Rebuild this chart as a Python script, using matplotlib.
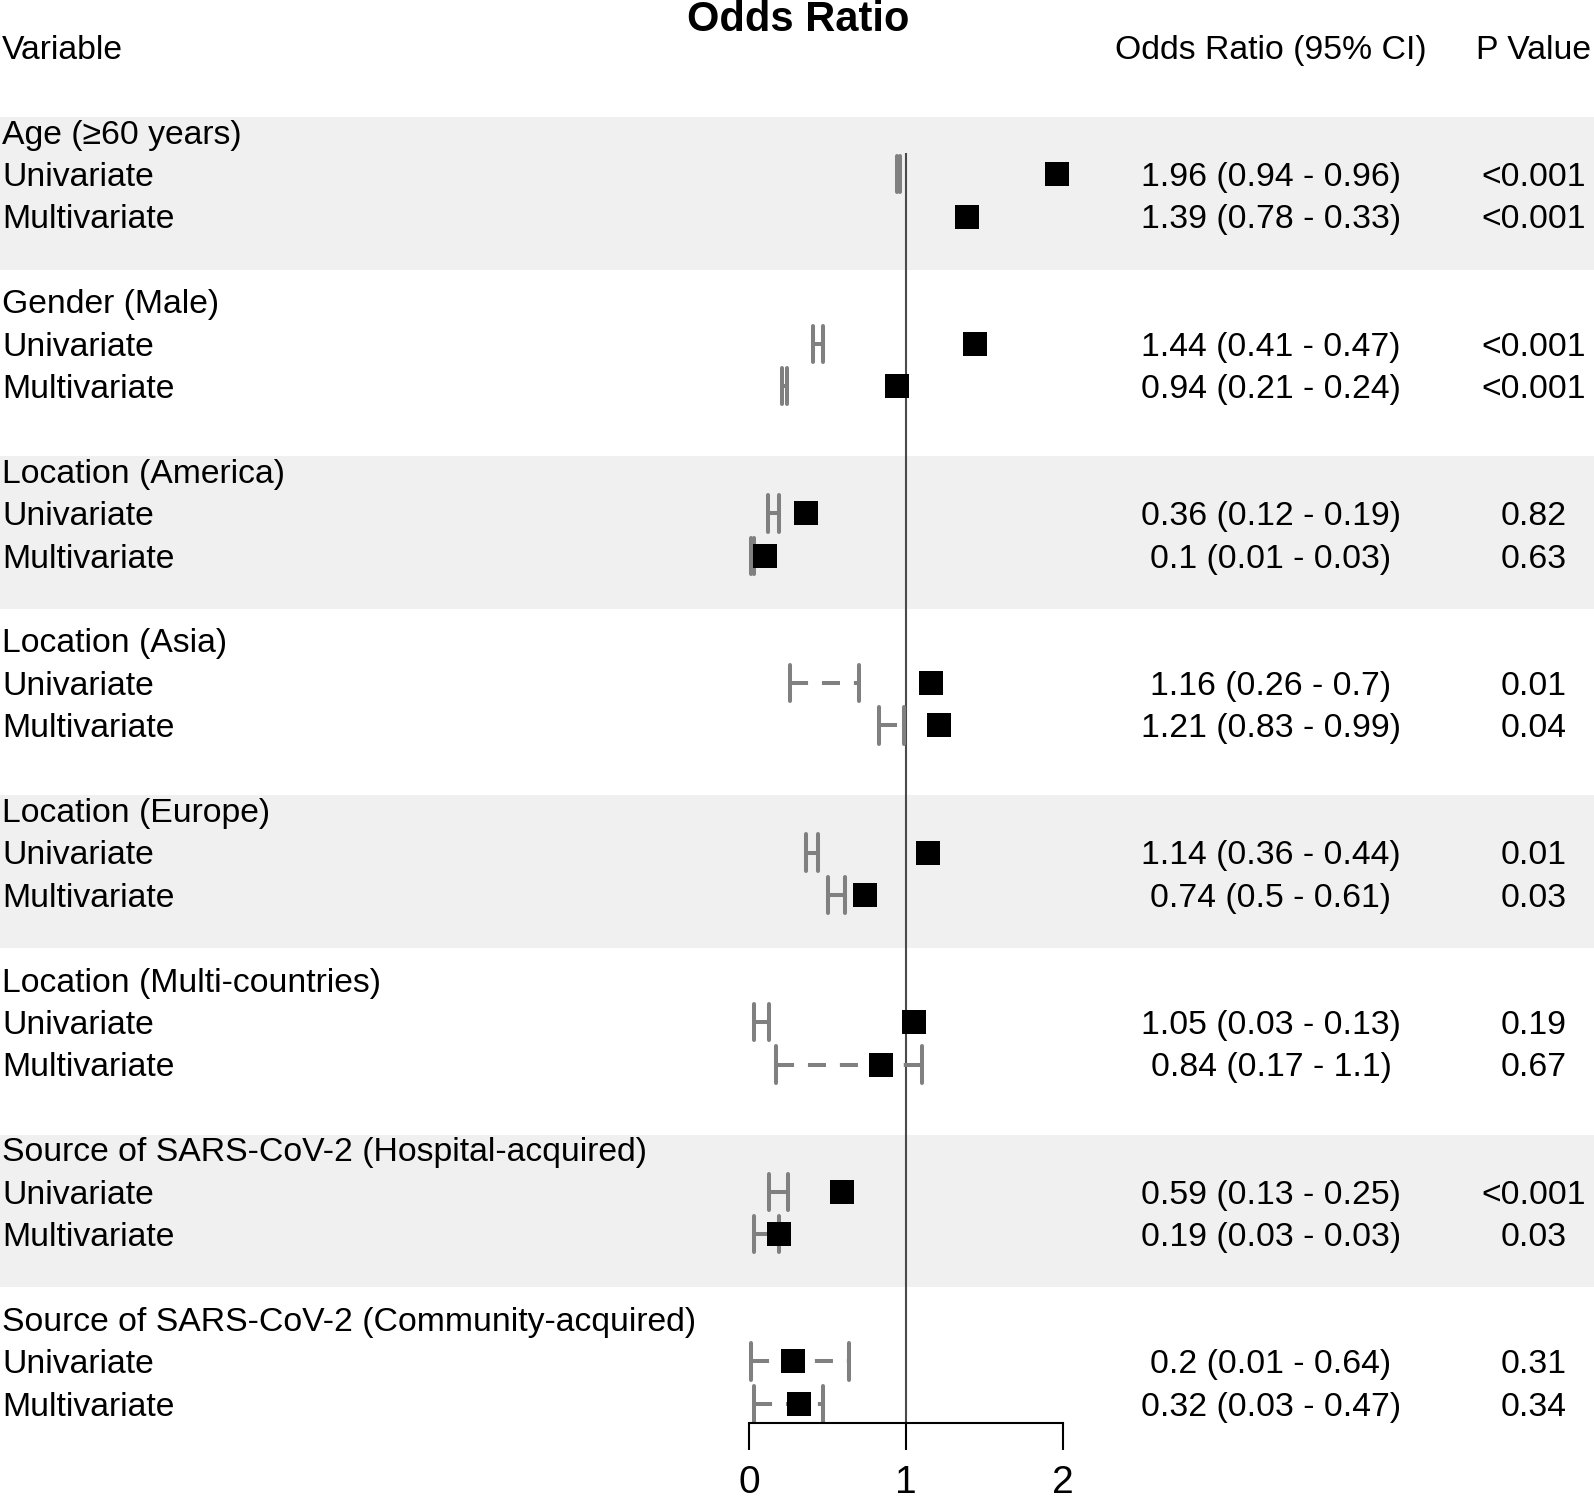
"""Forest plot: univariate / multivariate odds ratios by risk factor."""

import matplotlib.pyplot as plt
import matplotlib.transforms as mtransforms
import numpy as np

plt.rcParams["font.family"] = ["Liberation Sans", "DejaVu Sans"]

# ---- data ----
group_names = [
    "Age (\u226560 years)",
    "Gender (Male)",
    "Location (America)",
    "Location (Asia)",
    "Location (Europe)",
    "Location (Multi-countries)",
    "Source of SARS-CoV-2 (Hospital-acquired)",
    "Source of SARS-CoV-2 (Community-acquired)",
]
model_names = ["Univariate", "Multivariate"]

# plotted point estimates (as drawn in the picture)
odds = [1.96, 1.39, 1.44, 0.94, 0.36, 0.1, 1.16, 1.21,
        1.14, 0.74, 1.05, 0.84, 0.59, 0.19, 0.28, 0.32]
ci_low = [0.94, 0.78, 0.41, 0.21, 0.12, 0.01, 0.26, 0.83,
          0.36, 0.5, 0.03, 0.17, 0.13, 0.03, 0.01, 0.03]
ci_high = [0.96, 0.33, 0.47, 0.24, 0.19, 0.03, 0.7, 0.99,
           0.44, 0.61, 0.13, 1.1, 0.25, 0.19, 0.64, 0.47]
ci_text = [
    "1.96 (0.94 - 0.96)", "1.39 (0.78 - 0.33)",
    "1.44 (0.41 - 0.47)", "0.94 (0.21 - 0.24)",
    "0.36 (0.12 - 0.19)", "0.1 (0.01 - 0.03)",
    "1.16 (0.26 - 0.7)", "1.21 (0.83 - 0.99)",
    "1.14 (0.36 - 0.44)", "0.74 (0.5 - 0.61)",
    "1.05 (0.03 - 0.13)", "0.84 (0.17 - 1.1)",
    "0.59 (0.13 - 0.25)", "0.19 (0.03 - 0.03)",
    "0.2 (0.01 - 0.64)", "0.32 (0.03 - 0.47)",
]
p_values = ["<0.001", "<0.001", "<0.001", "<0.001", "0.82", "0.63",
            "0.01", "0.04", "0.01", "0.03", "0.19", "0.67",
            "<0.001", "0.03", "0.31", "0.34"]
x_ticks = [0, 1, 2]

# ---- layout (pixels of a 1594x1500 canvas) ----
W, H = 1594, 1500
ROW = 42.4          # row height
TOP = 47            # centre of header row
X0, PX_UNIT = 749, 157
AXIS_ROW = (1423 - TOP) / ROW
FS = 24.3
GRAY = "#808080"
LW = 2.9

fig = plt.figure(figsize=(W / 100, H / 100), dpi=100)
ax = fig.add_axes([0, 0, 1, 1])
ax.set_xlim(-X0 / PX_UNIT, (W - X0) / PX_UNIT)
ax.set_ylim((H - TOP) / ROW, -TOP / ROW)

header_rows = 2 + 4 * np.arange(len(group_names))
data_rows = np.ravel(np.column_stack([header_rows + 1, header_rows + 2]))

# shaded bands on alternating groups
for i, r in enumerate(header_rows):
    if i % 2 == 0:
        ax.axhspan(r - 0.35, r + 3.25, color="#f0f0f0", lw=0, zorder=0)

# reference line at OR = 1
ax.vlines(1, 2.5, AXIS_ROW, color="#4a4a4a", lw=1.5, zorder=1)

# confidence intervals (dashed, with caps); skip inverted ones
dash = (0, (13 / LW, 10 / LW))
for y, lo, hi in zip(data_rows, ci_low, ci_high):
    if lo > hi:
        continue
    ax.hlines(y, lo, hi, colors=GRAY, lw=LW, linestyles=[dash], zorder=2)
    ax.vlines([lo, hi], y - 0.43, y + 0.43, colors=GRAY, lw=LW,
              capstyle="round", zorder=2)

ax.plot(odds, data_rows, "s", ms=17, mew=0, color="black", zorder=3)

# bottom axis
for side in ["top", "left", "right"]:
    ax.spines[side].set_visible(False)
ax.spines["bottom"].set_position(("data", AXIS_ROW))
ax.spines["bottom"].set_bounds(0, 2)
ax.spines["bottom"].set_linewidth(1.5)
ax.set_xticks(x_ticks)
ax.set_xticklabels([str(t) for t in x_ticks])
ax.tick_params(axis="x", direction="out", length=19.5, width=1.5,
               labelsize=28, pad=11)
ax.set_yticks([])

# text columns
trans = mtransforms.blended_transform_factory(ax.transAxes, ax.transData)
BASE = 0.28
x_var, x_ci, x_p = 2 / W, 1271 / W, 1534 / W

ax.text(x_var, 0 + BASE, "Variable", transform=trans, fontsize=FS,
        ha="left", va="baseline")
ax.text(x_ci, 0 + BASE, "Odds Ratio (95% CI)", transform=trans,
        fontsize=FS, ha="center", va="baseline")
ax.text(x_p, 0 + BASE, "P Value", transform=trans, fontsize=FS,
        ha="center", va="baseline")

for r, name in zip(header_rows, group_names):
    ax.text(x_var, r + BASE, name, transform=trans, fontsize=FS,
            ha="left", va="baseline")

for i, y in enumerate(data_rows):
    ax.text(x_var, y + BASE, model_names[i % 2], transform=trans,
            fontsize=FS, ha="left", va="baseline")
    ax.text(x_ci, y + BASE, ci_text[i], transform=trans, fontsize=FS,
            ha="center", va="baseline")
    ax.text(x_p, y + BASE, p_values[i], transform=trans, fontsize=FS,
            ha="center", va="baseline")

fig.text(798 / W, 1 - 31 / H, "Odds Ratio", fontsize=30, fontweight="bold",
         ha="center", va="baseline")

fig.savefig("out.png", dpi=100)
